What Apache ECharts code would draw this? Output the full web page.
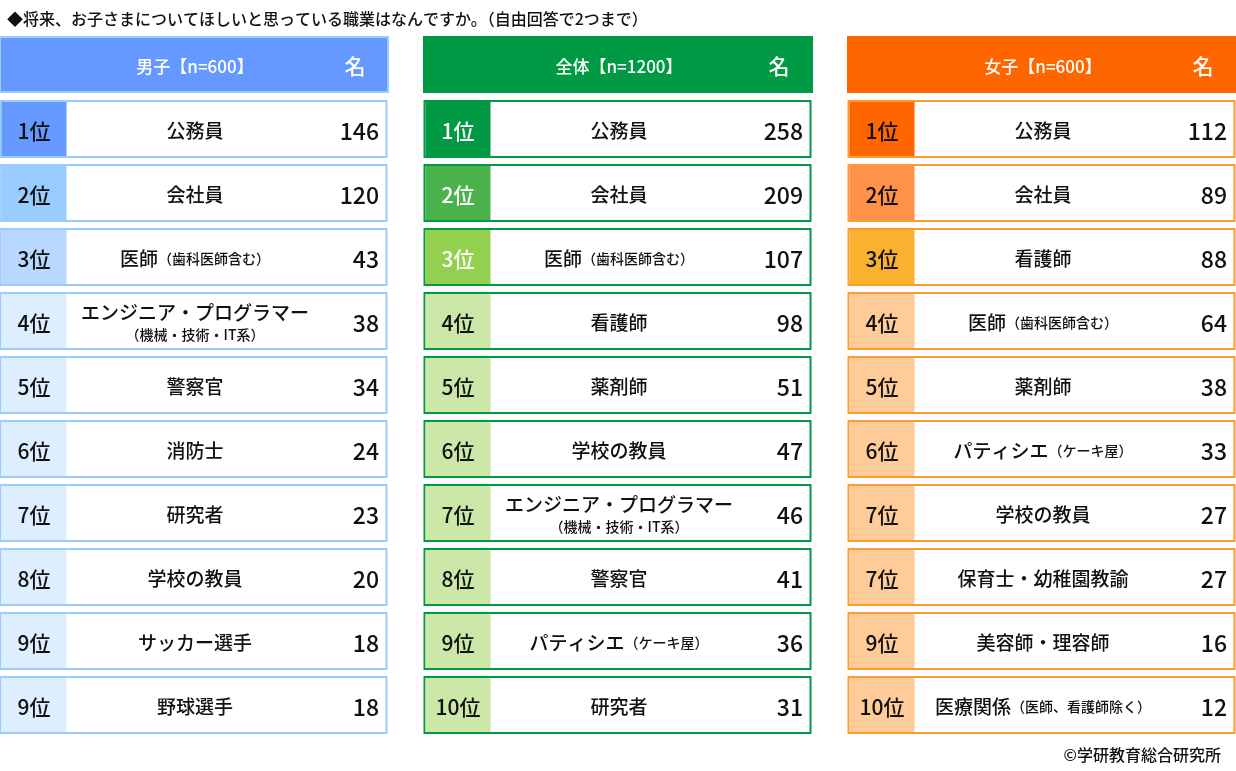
<!DOCTYPE html>
<html>
<head>
<meta charset="utf-8">
<script src="https://cdn.jsdelivr.net/npm/echarts@6/dist/echarts.min.js"></script>
<style>html,body{margin:0;padding:0;background:#fff}#chart{width:1236px;height:771px}</style>
</head>
<body>
<div id="chart"></div>
<script>
// data
const panelTitles = ['男子【n=600】', '全体【n=1200】', '女子【n=600】'];
const maleRanks = ['1位','2位','3位','4位','5位','6位','7位','8位','9位','9位'];
const maleJobs = ['公務員','会社員','医師（歯科医師含む）','エンジニア・プログラマー\n（機械・技術・IT系）','警察官','消防士','研究者','学校の教員','サッカー選手','野球選手'];
const maleCounts = [146,120,43,38,34,24,23,20,18,18];
const totalRanks = ['1位','2位','3位','4位','5位','6位','7位','8位','9位','10位'];
const totalJobs = ['公務員','会社員','医師（歯科医師含む）','看護師','薬剤師','学校の教員','エンジニア・プログラマー\n（機械・技術・IT系）','警察官','パティシエ（ケーキ屋）','研究者'];
const totalCounts = [258,209,107,98,51,47,46,41,36,31];
const femaleRanks = ['1位','2位','3位','4位','5位','6位','7位','7位','9位','10位'];
const femaleJobs = ['公務員','会社員','看護師','医師（歯科医師含む）','薬剤師','パティシエ（ケーキ屋）','学校の教員','保育士・幼稚園教諭','美容師・理容師','医療関係（医師、看護師除く）'];
const femaleCounts = [112,89,88,64,38,33,27,27,16,12];

const panels = [
  {ranks: maleRanks, jobs: maleJobs, counts: maleCounts, head: '#6699ff', border: '#99ccff',
   rankFill: ['#6699ff','#99ccff','#b8d8ff','#ddeeff'], rankText: ['#111','#111','#111','#111']},
  {ranks: totalRanks, jobs: totalJobs, counts: totalCounts, head: '#009944', border: '#009944',
   rankFill: ['#009944','#4cb34c','#94d050','#cce8a8'], rankText: ['#fff','#fff','#fff','#111']},
  {ranks: femaleRanks, jobs: femaleJobs, counts: femaleCounts, head: '#ff6600', border: '#ff9933',
   rankFill: ['#ff6600','#ff9148','#f9b12e','#ffcc99'], rankText: ['#111','#111','#111','#111']}
];

const FONT = '"Noto Sans CJK JP", sans-serif';
const cells = [];
panels.forEach((p, pi) => p.ranks.forEach((r, ri) => cells.push([pi, ri])));
const headers = panelTitles.map((t, i) => [i, 0]);

function jobRich(job) {
  if (job.indexOf('\n') >= 0) {
    const parts = job.split('\n');
    return '{m|' + parts[0] + '}\n{s|' + parts[1] + '}';
  }
  const k = job.indexOf('（');
  if (k > 0) return '{m|' + job.slice(0, k) + '}{s|' + job.slice(k) + '}';
  return '{m|' + job + '}';
}

const chart = echarts.init(document.getElementById('chart'));
chart.setOption({
  animation: false,
  title: [
    {text: '◆将来、お子さまについてほしいと思っている職業はなんですか。（自由回答で2つまで）', left: 2, top: 6,
     textStyle: {fontFamily: FONT, fontSize: 16, fontWeight: 500, color: '#111'}},
    {text: '©学研教育総合研究所', right: 10, top: 742,
     textStyle: {fontFamily: FONT, fontSize: 16, fontWeight: 500, color: '#111'}}
  ],
  grid: {left: 0, top: 99, width: 1236, height: 640},
  xAxis: {type: 'value', min: 0, max: 1236 / 424, show: false},
  yAxis: {type: 'value', min: 0, max: 10, inverse: true, show: false},
  series: [
    {
      type: 'custom', data: cells, coordinateSystem: 'cartesian2d',
      renderItem: function (params, api) {
        const pi = api.value(0), ri = api.value(1);
        const p = panels[pi];
        const [x, y] = api.coord([pi, ri]);
        const w = 386, h = 56, top = y + 2, cy = top + h / 2 + 2;
        const fill = p.rankFill[Math.min(ri, 3)];
        const tc = p.rankText[Math.min(ri, 3)];
        return {type: 'group', children: [
          {type: 'rect', shape: {x: x + 0.5, y: top, width: w, height: h}, style: {fill: '#fff', stroke: p.border, lineWidth: 2}},
          {type: 'rect', shape: {x: x + 1.5, y: top + 1, width: 65, height: h - 2}, style: {fill: fill}},
          {type: 'text', x: x + 34, y: cy, style: {text: p.ranks[ri], fill: tc, fontFamily: FONT, fontSize: 21, fontWeight: 500, align: 'center', verticalAlign: 'middle'}},
          {type: 'text', x: x + 195, y: cy, style: {text: jobRich(p.jobs[ri]), align: 'center', verticalAlign: 'middle',
            rich: {m: {fontFamily: FONT, fontSize: 19, fontWeight: 500, fill: '#111', lineHeight: 23, align: 'center'},
                   s: {fontFamily: FONT, fontSize: 14, fontWeight: 500, fill: '#111', lineHeight: 20, align: 'center'}}}},
          {type: 'text', x: x + 379, y: cy, style: {text: String(p.counts[ri]), fill: '#111', fontFamily: FONT, fontSize: 23, fontWeight: 500, align: 'right', verticalAlign: 'middle'}}
        ]};
      }
    },
    {
      type: 'custom', data: headers, coordinateSystem: 'cartesian2d',
      renderItem: function (params, api) {
        const pi = api.value(0);
        const p = panels[pi];
        const [x, y] = api.coord([pi, 0]);
        const top = y - 62, h = 55;
        return {type: 'group', children: [
          {type: 'rect', shape: {x: x, y: top, width: 388, height: h}, style: {fill: p.head, stroke: pi === 0 ? '#99ccff' : p.head, lineWidth: 2}},
          {type: 'text', x: x + 195, y: top + h / 2 + 2, style: {text: panelTitles[pi], fill: '#fff', fontFamily: FONT, fontSize: 17, fontWeight: 500, align: 'center', verticalAlign: 'middle'}},
          {type: 'text', x: x + 355, y: top + h / 2 + 2, style: {text: '名', fill: '#fff', fontFamily: FONT, fontSize: 21, fontWeight: 500, align: 'center', verticalAlign: 'middle'}}
        ]};
      }
    }
  ]
});
</script>
</body>
</html>
